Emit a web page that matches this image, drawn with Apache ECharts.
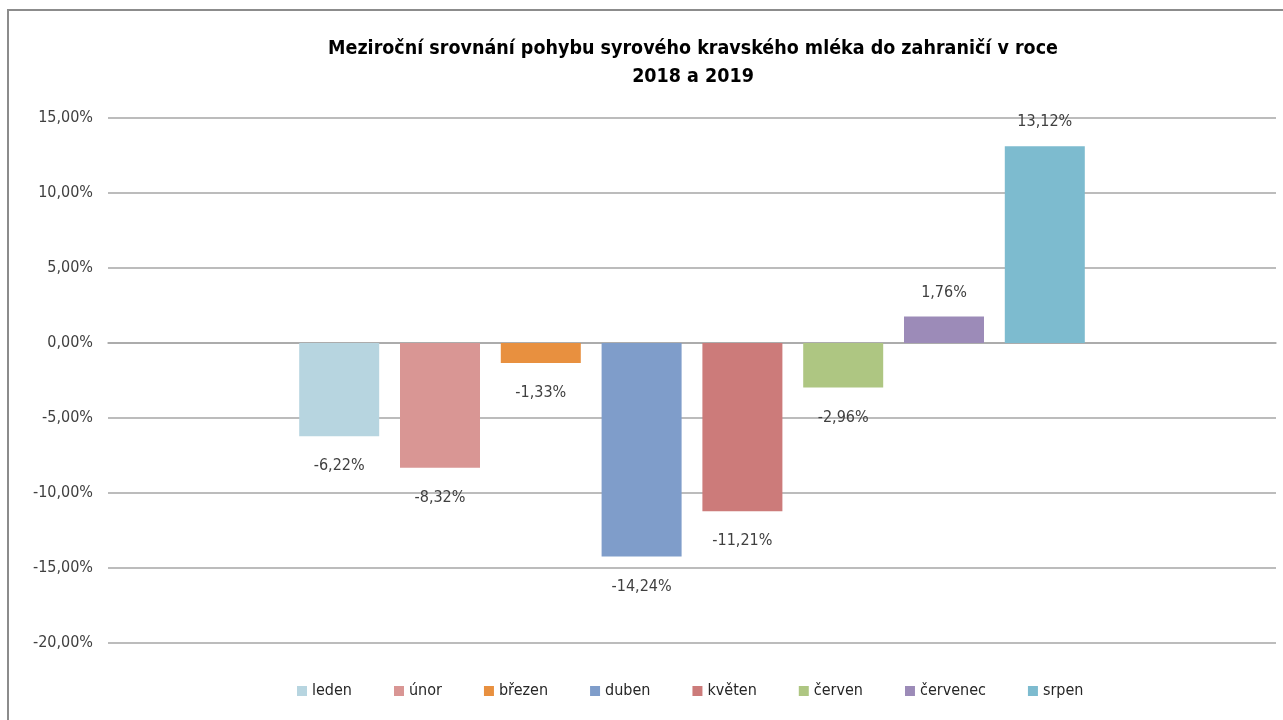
<!DOCTYPE html>
<html>
<head>
<meta charset="utf-8">
<script src="https://cdn.jsdelivr.net/npm/echarts@6/dist/echarts.min.js"></script>
<style>
  html, body { margin: 0; padding: 0; background: #fff; }
  #chart { width: 1283px; height: 720px; }
</style>
</head>
<body>
<div id="chart"></div>
<script>
  // měsíce a meziroční změny v %
  const months = ['leden', 'únor', 'březen', 'duben', 'květen', 'červen', 'červenec', 'srpen'];
  const changes = [-6.22, -8.32, -1.33, -14.24, -11.21, -2.96, 1.76, 13.12];
  const colors = ['#b7d5e0', '#d99694', '#e8903f', '#7f9dca', '#cc7b7a', '#aec682', '#9c8bb8', '#7dbbcf'];
  const yTicks = [-20, -15, -10, -5, 0, 5, 10, 15];

  const fontName = '"Liberation Sans Narrow", "DejaVu Sans Condensed", sans-serif';
  const fmt = v => v.toFixed(2).replace('.', ',') + '%';

  const chart = echarts.init(document.getElementById('chart'));

  const series = months.map((m, i) => ({
    name: m,
    type: 'bar',
    data: [changes[i]],
    barWidth: 80,
    barGap: '26%',
    itemStyle: { color: colors[i] },
    label: {
      show: true,
      position: changes[i] >= 0 ? 'top' : 'bottom',
      distance: changes[i] >= 0 ? 16 : 22,
      formatter: p => fmt(p.value),
      fontFamily: fontName,
      fontSize: 16,
      color: '#404040'
    }
  }));

  chart.setOption({
    animation: false,
    textStyle: { fontFamily: fontName },
    title: {
      text: 'Meziroční srovnání pohybu syrového kravského mléka do zahraničí v roce\n2018 a 2019',
      left: 688,
      textAlign: 'center',
      top: 30,
      textStyle: { fontSize: 19.5, fontWeight: 'bold', color: '#000', lineHeight: 28, fontFamily: fontName }
    },
    graphic: [{
      type: 'rect',
      shape: { x: 8, y: 10, width: 1290, height: 730 },
      style: { fill: 'none', stroke: '#8c8c8c', lineWidth: 2 },
      silent: true
    }],
    legend: {
      bottom: 16,
      left: 292,
      itemWidth: 10,
      itemHeight: 10,
      itemGap: 42,
      icon: 'rect',
      textStyle: { fontSize: 16, color: '#262626', fontFamily: fontName },
      data: months
    },
    grid: { left: 108, right: 7, top: 118, bottom: 77 },
    xAxis: {
      type: 'category',
      data: [''],
      axisLine: { show: true, onZero: true, lineStyle: { color: '#a6a6a6', width: 1.5 } },
      axisTick: { show: false },
      axisLabel: { show: false }
    },
    yAxis: {
      type: 'value',
      min: yTicks[0],
      max: yTicks[yTicks.length - 1],
      interval: 5,
      axisLine: { show: false },
      axisTick: { show: false },
      splitLine: { lineStyle: { color: '#a6a6a6', width: 1.5 } },
      axisLabel: {
        formatter: v => fmt(v),
        fontSize: 16,
        color: '#404040',
        margin: 15,
        fontFamily: fontName
      }
    },
    series: series
  });
</script>
</body>
</html>
